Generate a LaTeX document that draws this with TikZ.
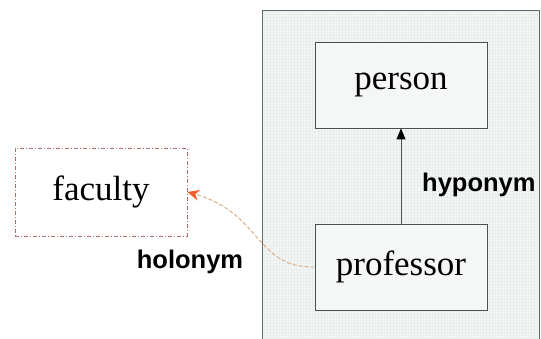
\documentclass[tikz,border=0pt]{standalone}
\usepackage{fontspec}
\setmainfont{Liberation Serif}
\newfontfamily\labelfont{Liberation Sans}
\usetikzlibrary{arrows.meta}
\definecolor{frameC}{HTML}{5E6C6A}
\definecolor{panelC}{HTML}{F4F7F6}
\definecolor{gridC}{HTML}{E9EEEC}
\definecolor{boxC}{HTML}{45524F}
\definecolor{facC}{HTML}{B86A6A}
\definecolor{holoC}{HTML}{D8A880}
\definecolor{tipC}{HTML}{F0602A}
\tikzset{
  x=1pt, y=1pt,
  concept/.style={draw=boxC, line width=0.8pt, minimum width=172pt, minimum height=86pt, inner sep=0pt, font=\fontsize{35}{37}\selectfont, text=black},
  facbox/.style={draw=facC, line width=0.8pt, dash pattern=on 4pt off 2pt on 1pt off 2pt, minimum width=172pt, minimum height=88pt, inner sep=0pt, font=\fontsize{35}{37}\selectfont, text=black},
  rel/.style={font=\labelfont\bfseries\fontsize{25.5}{27}\selectfont, text=black, inner sep=0pt},
}
\begin{document}
\begin{tikzpicture}
\useasboundingbox (0,0) rectangle (541,338);
\fill[white] (0,0) rectangle (541,338);
% panel
\fill[panelC] (262,-2) rectangle (539,328);
\begin{scope}
\clip (262,-2) rectangle (539,328);
\draw[gridC, line width=0.3pt, step=3pt] (262,-2) grid (539,328);
\end{scope}
\draw[frameC, line width=0.9pt] (262,-2) -- (262,328) -- (539,328) -- (539,-2);
% nodes
\node[concept, fill=panelC] (person) at (401,253) {person};
\node[concept, fill=panelC] (prof) at (401,71) {professor};
\node[facbox] (fac) at (101,146) {faculty};
% hyponym
\draw[boxC, line width=0.8pt, -{Triangle[length=11pt,width=9pt,color=black,fill=black]}] (prof.north) -- (person.south);
\node[rel, anchor=west] (hypo) at (422,153) {hyponym};
% holonym
\draw[holoC, line width=0.9pt, dash pattern=on 4pt off 2pt, -{Stealth[length=12pt,width=11pt,color=tipC,fill=tipC]}]
  (prof.west) .. controls (255,70) and (262,125) .. (fac.east);
\node[rel] (holo) at (190,76) {holonym};
\end{tikzpicture}
\end{document}
